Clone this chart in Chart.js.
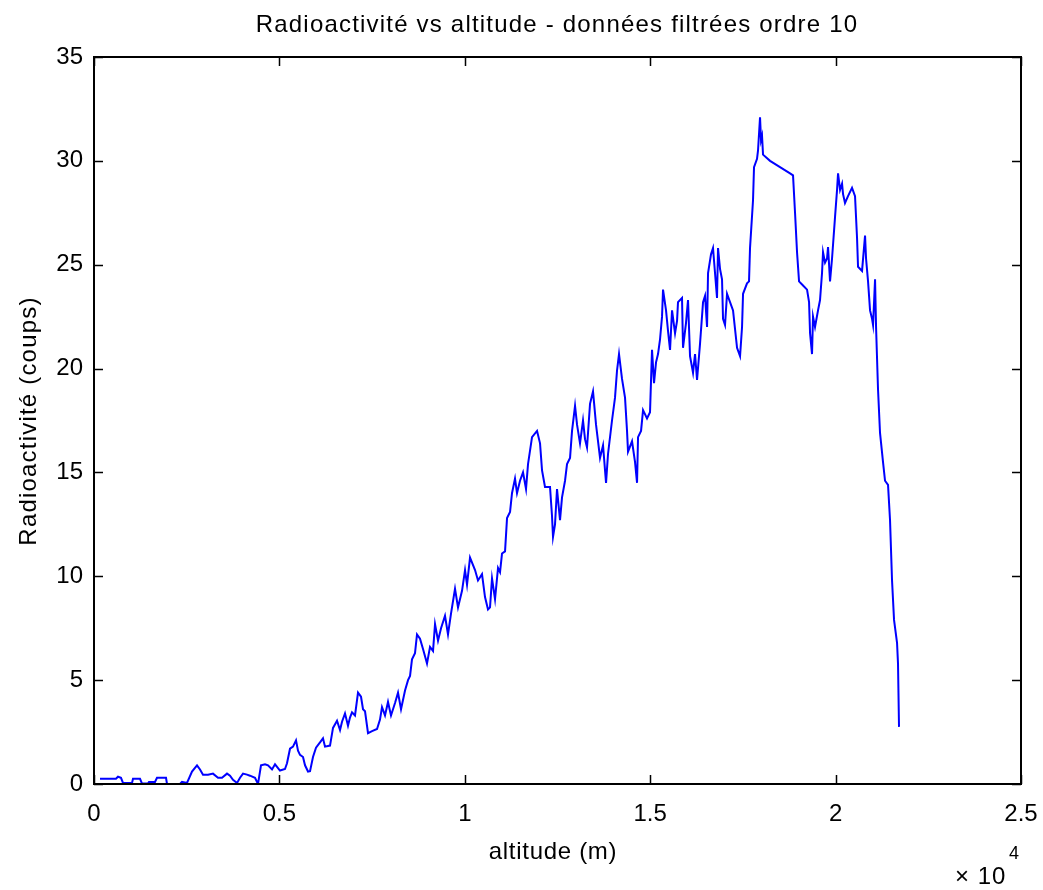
<!DOCTYPE html>
<html lang="fr">
<head>
<meta charset="utf-8">
<title>Radioactivité vs altitude</title>
<script src="https://cdn.jsdelivr.net/npm/chart.js@4.4.0/dist/chart.umd.min.js"></script>
<style>
  html, body { margin: 0; padding: 0; background: #fff; }
  #wrap { width: 1043px; height: 890px; }
</style>
</head>
<body>
<div id="wrap"><canvas id="plot" width="1043" height="890"></canvas></div>
<script>
// altitude en mètres, comptage filtré (ordre 10)
const altitude = [
  162, 593, 647, 728, 782, 1025, 1052, 1241, 1295, 1456,
  1483, 1645, 1699, 1942, 1969, 2319, 2373, 2508, 2643, 2778,
  2859, 2940, 3075, 3209, 3344, 3452, 3587, 3668, 3749, 3857,
  3938, 4019, 4126, 4207, 4342, 4423, 4504, 4612, 4693, 4801,
  4882, 5016, 5151, 5205, 5286, 5367, 5448, 5502, 5556, 5637,
  5691, 5772, 5826, 5906, 5987, 6095, 6176, 6230, 6365, 6446,
  6554, 6635, 6689, 6769, 6850, 6904, 6958, 7039, 7120, 7201,
  7255, 7309, 7390, 7498, 7633, 7713, 7767, 7848, 7929, 8010,
  8118, 8199, 8280, 8388, 8469, 8523, 8576, 8657, 8711, 8792,
  8873, 8981, 9062, 9143, 9197, 9278, 9359, 9466, 9547, 9628,
  9736, 9817, 9925, 10006, 10060, 10141, 10276, 10356, 10464, 10545,
  10626, 10680, 10734, 10815, 10896, 10950, 11004, 11085, 11139, 11220,
  11273, 11354, 11408, 11489, 11570, 11651, 11705, 11813, 11948, 12029,
  12083, 12163, 12298, 12352, 12379, 12433, 12487, 12541, 12568, 12622,
  12703, 12757, 12838, 12892, 12973, 13027, 13107, 13188, 13242, 13296,
  13377, 13458, 13539, 13647, 13728, 13809, 13863, 13970, 14051, 14105,
  14159, 14240, 14321, 14375, 14402, 14510, 14591, 14645, 14672, 14753,
  14807, 14914, 14995, 15049, 15103, 15157, 15211, 15265, 15319, 15346,
  15427, 15481, 15535, 15589, 15670, 15724, 15750, 15858, 15885, 15966,
  16020, 16074, 16155, 16209, 16263, 16344, 16425, 16479, 16533, 16560,
  16640, 16694, 16748, 16802, 16829, 16883, 16937, 16964, 17018, 17072,
  17153, 17234, 17288, 17342, 17423, 17477, 17504, 17611, 17665, 17692,
  17773, 17800, 17881, 17908, 17962, 17989, 18016, 18043, 18232, 18501,
  18771, 18852, 18906, 18960, 19014, 19122, 19230, 19284, 19311, 19364,
  19391, 19445, 19526, 19580, 19634, 19661, 19715, 19769, 19796, 19850,
  19904, 19985, 20039, 20066, 20120, 20174, 20201, 20254, 20335, 20443,
  20524, 20578, 20605, 20713, 20794, 20821, 20875, 20929, 20983, 21010,
  21064, 21091, 21144, 21198, 21279, 21333, 21414, 21468, 21522, 21576,
  21657, 21683, 21710
];

const coups = [
  0.25, 0.25, 0.35, 0.3, 0.05, 0.05, 0.25, 0.25, 0.02, 0.02,
  0.1, 0.1, 0.3, 0.3, 0.0, 0.0, 0.1, 0.05, 0.6, 0.9,
  0.7, 0.45, 0.45, 0.5, 0.3, 0.3, 0.5, 0.4, 0.2, 0.05,
  0.3, 0.5, 0.45, 0.4, 0.3, 0.0, 0.9, 0.95, 0.9, 0.7,
  0.95, 0.65, 0.72, 1.0, 1.7, 1.8, 2.1, 1.6, 1.4, 1.3,
  0.9, 0.6, 0.62, 1.3, 1.75, 2.0, 2.2, 1.8, 1.85, 2.7,
  3.05, 2.6, 3.0, 3.4, 2.8, 3.2, 3.45, 3.3, 4.4, 4.2,
  3.6, 3.5, 2.45, 2.55, 2.65, 3.1, 3.7, 3.3, 3.95, 3.3,
  3.9, 4.4, 3.6, 4.5, 5.0, 5.2, 6.0, 6.3, 7.2, 7.0,
  6.5, 5.8, 6.6, 6.4, 7.7, 6.9, 7.5, 8.1, 7.2, 8.2,
  9.4, 8.5, 9.3, 10.3, 9.6, 10.9, 10.3, 9.8, 10.1, 9.0,
  8.4, 8.5, 9.9, 8.9, 10.4, 10.2, 11.1, 11.2, 12.8, 13.1,
  14.0, 14.7, 14.0, 14.6, 15.0, 14.2, 15.4, 16.7, 17.0, 16.4,
  15.1, 14.3, 14.3, 12.9, 11.9, 12.5, 14.2, 13.2, 12.7, 13.8,
  14.6, 15.4, 15.7, 17.0, 18.2, 17.3, 16.4, 17.5, 16.6, 16.2,
  18.3, 18.9, 17.3, 15.7, 16.3, 14.5, 15.9, 17.5, 18.6, 19.9,
  20.7, 19.5, 18.6, 17.0, 16.0, 16.5, 15.5, 14.5, 16.7, 17.0,
  18.0, 17.6, 17.9, 20.9, 19.3, 20.3, 20.7, 21.4, 22.5, 23.8,
  22.8, 21.8, 20.9, 22.8, 21.7, 22.3, 23.2, 23.4, 21.0, 22.2,
  23.3, 20.6, 19.8, 20.7, 19.45, 21.2, 23.2, 23.5, 22.0, 24.6,
  25.5, 25.8, 24.6, 23.4, 25.8, 24.8, 24.3, 22.4, 22.1, 23.6,
  23.2, 22.8, 21.9, 21.0, 20.6, 22.0, 23.6, 24.1, 24.2, 25.8,
  28.1, 29.7, 30.1, 30.5, 32.1, 31.0, 31.2, 30.3, 30.0, 29.7,
  29.4, 29.3, 27.5, 25.6, 24.2, 24.0, 23.8, 23.2, 21.7, 20.7,
  22.5, 22.0, 22.8, 23.3, 24.6, 25.6, 25.1, 25.3, 25.85, 24.2,
  25.3, 27.3, 28.6, 29.4, 28.6, 28.9, 28.4, 27.97, 28.3, 28.7,
  28.3, 26.3, 24.9, 24.7, 26.4, 25.3, 24.2, 22.8, 22.4, 22.1,
  24.3, 22.0, 19.0, 16.9, 15.5, 14.6, 14.4, 12.7, 9.8, 7.9,
  6.8, 5.8, 2.75
];

const xTicks = [0, 5000, 10000, 15000, 20000, 25000];
const yTicks = [0, 5, 10, 15, 20, 25, 30, 35];

const titre = 'Radioactivité vs altitude - données filtrées ordre 10';
const labelX = 'altitude (m)';
const labelY = 'Radioactivité (coups)';

const police = '"Liberation Sans", Arial, sans-serif';

// cadre façon matlab : boîte fermée, graduations vers l'intérieur, textes
const cadre = {
  id: 'cadre',
  afterDraw(chart) {
    const { ctx, chartArea: a, scales: { x, y } } = chart;
    const tick = 9;
    ctx.save();
    ctx.strokeStyle = '#000';
    ctx.lineWidth = 2;
    ctx.strokeRect(a.left, a.top, a.right - a.left, a.bottom - a.top);

    ctx.lineWidth = 1.5;
    ctx.beginPath();
    xTicks.forEach(v => {
      const px = Math.round(x.getPixelForValue(v)) + 0.5;
      ctx.moveTo(px, a.bottom); ctx.lineTo(px, a.bottom - tick);
      ctx.moveTo(px, a.top); ctx.lineTo(px, a.top + tick);
    });
    yTicks.forEach(v => {
      const py = Math.round(y.getPixelForValue(v)) + 0.5;
      ctx.moveTo(a.left, py); ctx.lineTo(a.left + tick, py);
      ctx.moveTo(a.right, py); ctx.lineTo(a.right - tick, py);
    });
    ctx.stroke();

    ctx.fillStyle = '#000';
    ctx.textBaseline = 'alphabetic';
    ctx.textAlign = 'center';
    ctx.font = '24px ' + police;
    ctx.letterSpacing = '1.2px';
    ctx.fillText(titre, 557, 32);

    ctx.letterSpacing = '0.7px';
    ctx.fillText(labelX, 553, 859);

    ctx.save();
    ctx.translate(36, 421);
    ctx.rotate(-Math.PI / 2);
    ctx.letterSpacing = '1.2px';
    ctx.fillText(labelY, 0, 0);
    ctx.restore();

    // multiplicateur de l'axe x
    ctx.letterSpacing = '1px';
    ctx.textAlign = 'left';
    ctx.fillText('\u00d7 10', 955, 884);
    ctx.font = '18px ' + police;
    ctx.letterSpacing = '0px';
    ctx.fillText('4', 1009, 859);
    ctx.restore();
  }
};

new Chart(document.getElementById('plot'), {
  type: 'line',
  data: {
    datasets: [{
      data: altitude.map((a, i) => ({ x: a, y: coups[i] })),
      borderColor: '#0000ff',
      borderWidth: 2,
      pointRadius: 0,
      tension: 0,
      fill: false
    }]
  },
  options: {
    responsive: false,
    animation: false,
    layout: { padding: { top: 57, right: 22, left: 0, bottom: 0 } },
    plugins: {
      legend: { display: false },
      tooltip: { enabled: false },
      title: { display: false }
    },
    scales: {
      x: {
        type: 'linear',
        min: 0,
        max: 25000,
        afterFit: s => {
          s.height = 106;
          s.paddingLeft = 0;
          s.paddingRight = 0;
        },
        afterBuildTicks: s => { s.ticks = xTicks.map(v => ({ value: v })); },
        grid: { display: false, drawTicks: false },
        border: { display: false },
        ticks: {
          padding: 16,
          maxRotation: 0,
          color: '#000',
          font: { family: police, size: 24 },
          callback: v => String(v / 10000)
        }
      },
      y: {
        min: 0,
        max: 35,
        afterFit: s => {
          s.width = 94;
          s.paddingTop = 0;
          s.paddingBottom = 0;
        },
        afterBuildTicks: s => { s.ticks = yTicks.map(v => ({ value: v })); },
        grid: { display: false, drawTicks: false },
        border: { display: false },
        ticks: {
          padding: 11,
          color: '#000',
          font: { family: police, size: 24 }
        }
      }
    }
  },
  plugins: [cadre]
});
</script>
</body>
</html>
